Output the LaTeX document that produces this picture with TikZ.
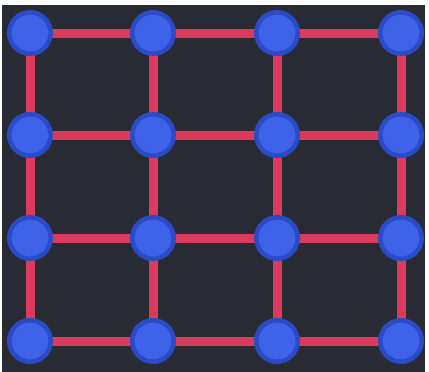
\documentclass[tikz,border=0pt]{standalone}
\usetikzlibrary{backgrounds}
\definecolor{bgdark}{HTML}{282B33}
\definecolor{linkred}{HTML}{DB3A5C}
\definecolor{dotfill}{HTML}{3E63E9}
\definecolor{dotring}{HTML}{2B4BC6}
\tikzset{
  dot/.style={circle, fill=dotfill, draw=dotring, line width=4.5pt,
              minimum size=41.5pt, inner sep=0pt},
  link/.style={draw=linkred, line width=9pt}
}
\begin{document}
\begin{tikzpicture}[x=1pt, y=-1pt]
  \useasboundingbox (0,0) rectangle (429,372);
  % 4x4 lattice of nodes
  \foreach \r/\y in {1/33,2/135,3/238,4/341}{
    \foreach \c/\x in {1/30,2/153,3/277,4/401}{
      \node[dot] (n\r\c) at (\x,\y) {};
    }
  }
  \begin{scope}[on background layer]
    % frame: thin white margin at the top, left and right, dark board inside
    \fill[white] (0,0) rectangle (429,372);
    \fill[bgdark] (2,5) rectangle (425,372);
    % edges between neighbours, underneath the nodes
    \foreach \r in {1,...,4}{
      \foreach \c/\d in {1/2,2/3,3/4}{
        \draw[link] (n\r\c.center) -- (n\r\d.center);
        \draw[link] (n\c\r.center) -- (n\d\r.center);
      }
    }
  \end{scope}
\end{tikzpicture}
\end{document}
